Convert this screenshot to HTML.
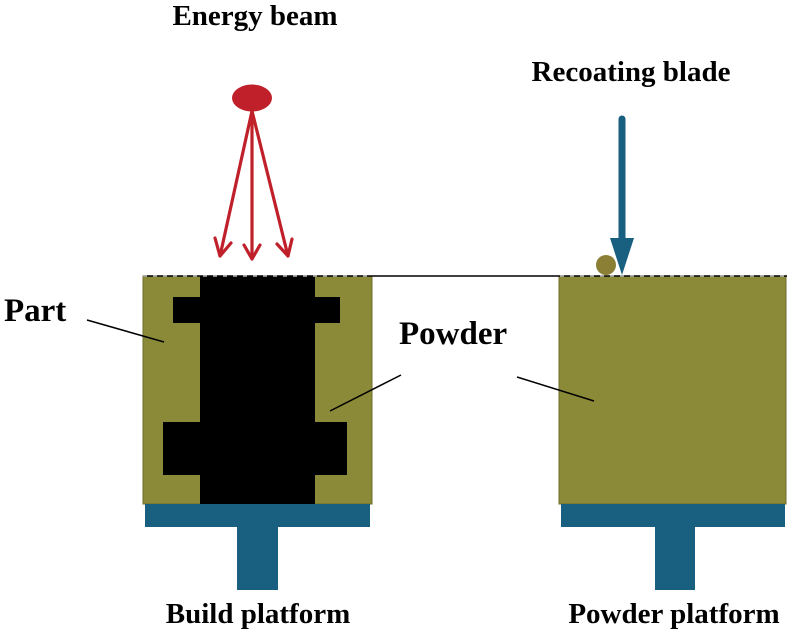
<!DOCTYPE html>
<html><head><meta charset="utf-8"><style>
html,body{margin:0;padding:0;background:#fff;}
svg{display:block;}
text{font-family:"Liberation Serif",serif;font-weight:bold;fill:#000;}
</style></head><body>
<svg width="805" height="637" viewBox="0 0 805 637">
<text x="255" y="25" font-size="29" text-anchor="middle">Energy beam</text>
<text x="631" y="81" font-size="29" text-anchor="middle">Recoating blade</text>
<text x="4" y="321" font-size="33">Part</text>
<text x="399" y="344" font-size="33">Powder</text>
<text x="258" y="623" font-size="29" text-anchor="middle">Build platform</text>
<text x="674" y="623" font-size="29" text-anchor="middle">Powder platform</text>

<rect x="143" y="276" width="229" height="228" fill="#8b8a38" stroke="#6f6e2a" stroke-width="1"/>
<rect x="559" y="276" width="227" height="228" fill="#8b8a38" stroke="#6f6e2a" stroke-width="1"/>
<rect x="200" y="276" width="115" height="228" fill="#000"/>
<rect x="173" y="297" width="167" height="26" fill="#000"/>
<rect x="163" y="422" width="184" height="53" fill="#000"/>
<rect x="145" y="504" width="225" height="23" fill="#185f80"/>
<rect x="237" y="527" width="41" height="63" fill="#185f80"/>
<rect x="561" y="504" width="224" height="23" fill="#185f80"/>
<rect x="655" y="527" width="40" height="63" fill="#185f80"/>
<line x1="143" y1="276" x2="787" y2="276" stroke="#000" stroke-width="1.5"/>
<line x1="143" y1="276" x2="372" y2="276" stroke="#bbb" stroke-width="1.5" stroke-dasharray="4,6"/>
<line x1="560" y1="276" x2="787" y2="276" stroke="#bbb" stroke-width="1.5" stroke-dasharray="4,6"/>
<line x1="87" y1="320" x2="164" y2="342" stroke="#000" stroke-width="1.5"/>
<line x1="401" y1="375" x2="330" y2="411" stroke="#000" stroke-width="1.5"/>
<line x1="517" y1="377" x2="594" y2="401" stroke="#000" stroke-width="1.5"/>
<ellipse cx="252" cy="98" rx="20" ry="13.5" fill="#c0202a"/>
<g stroke="#c0202a" stroke-width="3.2" fill="none" stroke-linecap="round" stroke-linejoin="round">
<line x1="252" y1="111" x2="220" y2="256"/>
<line x1="252" y1="111" x2="252" y2="259"/>
<line x1="252" y1="111" x2="288" y2="256"/>
<polyline points="215,238 220,256 231,243"/>
<polyline points="244,245 252,259 260,245"/>
<polyline points="277,244 288,256 292,239"/>
</g>
<line x1="622" y1="119" x2="622" y2="240" stroke="#185f80" stroke-width="7" stroke-linecap="round"/>
<polygon points="610,238 634,238 622,275" fill="#185f80"/>
<circle cx="606" cy="265" r="10" fill="#8b7f35"/>
</svg>
</body></html>
